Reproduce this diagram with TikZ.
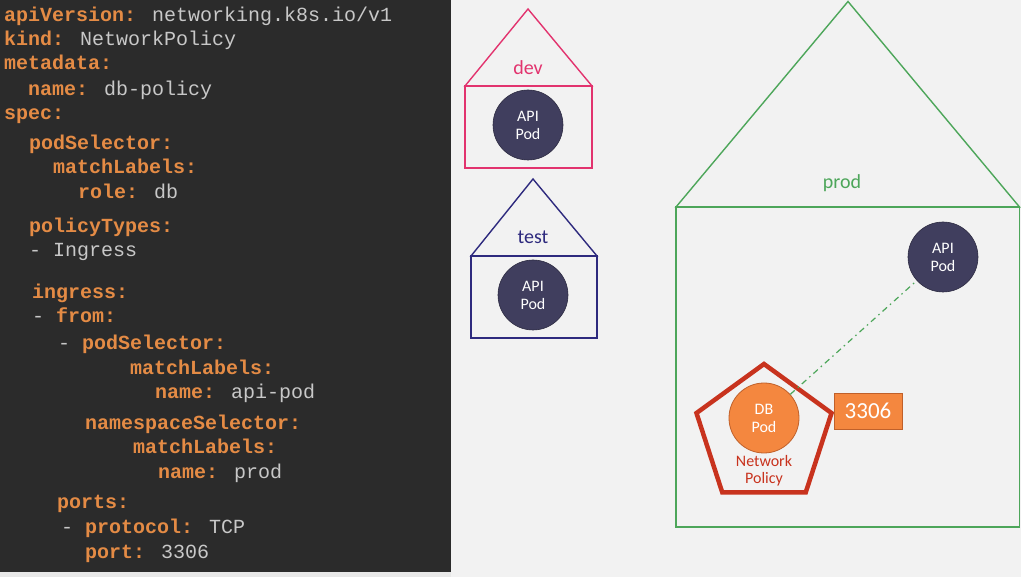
\documentclass[tikz,border=0pt]{standalone}
\usepackage{fontspec}
\setmainfont{Carlito}
\newfontfamily\codefont{Liberation Mono}
\usetikzlibrary{shapes.geometric}
\definecolor{panel}{HTML}{2B2B2B}
\definecolor{bgc}{HTML}{F2F2F2}
\definecolor{keyc}{HTML}{E48B45}
\definecolor{valc}{HTML}{C8C8C8}
\definecolor{devc}{HTML}{E2336E}
\definecolor{testc}{HTML}{2E2A7E}
\definecolor{prodc}{HTML}{4DA65A}
\definecolor{podc}{HTML}{403E5E}
\definecolor{dbc}{HTML}{F4873F}
\definecolor{dbedge}{HTML}{C0602A}
\definecolor{polc}{HTML}{C8331E}
\tikzset{
  code/.style={anchor=mid west, inner sep=0pt, font=\codefont\fontsize{20}{20}\selectfont, text=valc},
  pod/.style={circle, minimum size=70pt, inner sep=0pt, fill=podc, draw=podc!70!black, line width=0.6pt, text=white, align=center, font=\fontsize{16}{18}\selectfont},
  dbpod/.style={circle, minimum size=70pt, inner sep=0pt, fill=dbc, draw=dbedge, line width=0.8pt, text=white, align=center, font=\fontsize{16}{18}\selectfont},
  house/.style={line width=1.4pt},
  nslabel/.style={font=\fontsize{20}{20}\selectfont, inner sep=0pt},
}
\newcommand{\K}[1]{\textbf{\color{keyc}#1}}
\begin{document}
\begin{tikzpicture}[x=1pt,y=-1pt]
\useasboundingbox (0,0) rectangle (1021,577);
\fill[bgc] (0,0) rectangle (1021,577);
\fill[panel] (0,0) rectangle (451,572);
\fill[black!9] (0,572) rectangle (451,577);
% code
\node[code] (l1) at (4,19) {\K{apiVersion:} networking.k8s.io/v1};
\node[code] (l2) at (4,43) {\K{kind:} NetworkPolicy};
\node[code] (l3) at (4,67) {\K{metadata:}};
\node[code] (l4) at (28,93) {\K{name:} db-policy};
\node[code] (l5) at (4,117) {\K{spec:}};
\node[code] (l6) at (29,147) {\K{podSelector:}};
\node[code] (l7) at (53,171) {\K{matchLabels:}};
\node[code] (l8) at (78,196) {\K{role:} db};
\node[code] (l9) at (29,230) {\K{policyTypes:}};
\node[code] (l10) at (29,254) {- Ingress};
\node[code] (l11) at (32,296) {\K{ingress:}};
\node[code] (l12) at (32,320) {- \K{from:}};
\node[code] (l13) at (58,347) {- \K{podSelector:}};
\node[code] (l14) at (130,372) {\K{matchLabels:}};
\node[code] (l15) at (155,396) {\K{name:} api-pod};
\node[code] (l16) at (85,427) {\K{namespaceSelector:}};
\node[code] (l17) at (133,451) {\K{matchLabels:}};
\node[code] (l18) at (158,476) {\K{name:} prod};
\node[code] (l19) at (57,506) {\K{ports:}};
\node[code] (l20) at (61,531) {- \K{protocol:} TCP};
\node[code] (l21) at (85,556) {\K{port:} 3306};
% dev house
\coordinate (devA) at (528,9);
\draw[house, devc] (465,86) -- (devA) -- (592,86) -- cycle;
\draw[house, devc] (465,86) rectangle (592,168);
\node[nslabel, text=devc] (devL) at (528,68) {dev};
\node[pod] (devP) at (528,125) {API\\Pod};
% test house
\coordinate (testA) at (533,179);
\draw[house, testc] (471,256) -- (testA) -- (597,256) -- cycle;
\draw[house, testc] (471,256) rectangle (597,338);
\node[nslabel, text=testc] (testL) at (533,237) {test};
\node[pod] (testP) at (533,295) {API\\Pod};
% prod house
\coordinate (prodA) at (848,1.5);
\draw[house, prodc] (676,207) -- (prodA) -- (1019.5,207) -- cycle;
\draw[house, prodc] (676,207) rectangle (1019.5,527);
\node[nslabel, text=prodc] (prodL) at (842,183) {prod};
\node[pod] (prodP) at (943,257) {API\\Pod};
% network policy
\node[regular polygon, regular polygon sides=5, minimum size=142pt, inner sep=0pt, outer sep=0pt, draw=polc, line width=4.5pt] (pol) at (764,435) {};
\node[dbpod] (db) at (764,418) {DB\\Pod};
\node[text=polc, align=center, font=\fontsize{16}{17}\selectfont, inner sep=0pt] (polL) at (764,471) {Network\\Policy};
\node[fill=dbc, draw=dbedge, line width=0.8pt, minimum width=68pt, minimum height=36pt, inner sep=0pt, text=white, font=\fontsize{23}{23}\selectfont] (port) at (868,411) {3306};
\draw[prodc, line width=1.2pt, dash pattern=on 6pt off 4pt on 1.5pt off 4pt] (db) -- (prodP);
\end{tikzpicture}
\end{document}
